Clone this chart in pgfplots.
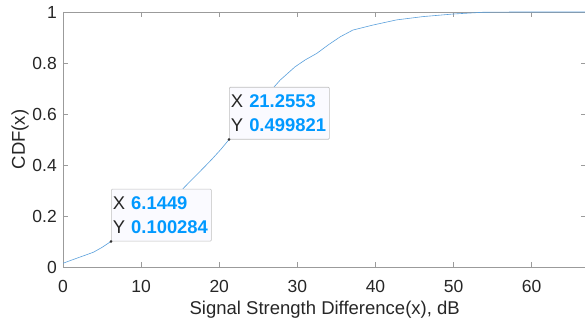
\documentclass[border=0pt]{standalone}
\usepackage{fontspec}
\setmainfont{Liberation Sans}
\usepackage{pgfplots}
\pgfplotsset{compat=1.18}
\definecolor{curve}{RGB}{90,160,220}
\definecolor{tipblue}{RGB}{0,153,255}
\definecolor{txt}{RGB}{38,38,38}
\definecolor{axcol}{RGB}{155,155,155}
\definecolor{tipfill}{RGB}{250,250,255}
\tikzset{tip/.style={anchor=south west, draw=black!25, fill=tipfill, rounded corners=1pt,
   inner xsep=1.5pt, inner ysep=0pt, text width=97pt, minimum height=52pt, align=left,
   font=\fontsize{18.4}{24}\selectfont, text=txt, line width=0.6pt}}
\begin{document}
\begin{tikzpicture}
\begin{axis}[
 at={(63pt,54pt)}, anchor=south west,
 scale only axis, width=523.4pt, height=255pt,
 xmin=0, xmax=67, ymin=0, ymax=1,
 xtick={0,10,20,30,40,50,60},
 ytick={0,0.2,0.4,0.6,0.8,1},
 yticklabels={0,0.2,0.4,0.6,0.8,1},
 tick align=inside, major tick length=5pt,
 axis line style={axcol, line width=0.6pt},
 every tick/.style={axcol, line width=0.6pt},
 /pgf/number format/assume math mode=true,
 ticklabel style={font=\fontsize{17.5}{20}\selectfont, text=txt},
 xticklabel style={anchor=base, inner sep=0pt, yshift=-25pt},
 yticklabel style={anchor=east, inner sep=0pt, xshift=-6pt},
 xlabel={Signal Strength Difference(x), dB},
 ylabel={CDF(x)},
 label style={font=\fontsize{18.5}{22}\selectfont, text=txt},
 xlabel style={at={(axis description cs:0.5,-0.188)}, anchor=base, inner sep=0pt},
 ylabel style={at={(axis description cs:-0.065,0.5)}, anchor=south, inner sep=0pt},
]
\addplot[curve, line width=0.6pt] coordinates {
 (0,0.0145) (1,0.026) (2,0.037) (3,0.048) (3.9,0.058) (5,0.077) (6.1449,0.100284)
 (8,0.141) (10,0.185) (12,0.229) (14,0.274) (15.2,0.302) (16.5,0.343)
 (18,0.389) (19.1,0.424) (20.2,0.461) (21.2553,0.499821) (23,0.561) (25,0.634)
 (26.9,0.702) (27.8,0.733) (29.7,0.785) (31,0.812) (32.5,0.838) (34,0.872)
 (35.5,0.903) (37.1,0.929) (39.7,0.949) (42.7,0.969) (46.1,0.982) (49.9,0.992)
 (53.8,0.999) (58,1) (67,1)
};
\addplot[only marks, mark=*, mark size=1.1pt, black!80] coordinates {
 (6.1449,0.100284) (21.2553,0.499821)
};
\node[tip] at (axis cs:6.1449,0.100284) {X \textcolor{tipblue}{\bfseries 6.1449}\\Y \textcolor{tipblue}{\bfseries 0.100284}};
\node[tip] at (axis cs:21.2553,0.499821) {X \textcolor{tipblue}{\bfseries 21.2553}\\Y \textcolor{tipblue}{\bfseries 0.499821}};
\end{axis}
\pgfresetboundingbox
\useasboundingbox (0,0) rectangle (585pt,321pt);
\end{tikzpicture}
\end{document}
